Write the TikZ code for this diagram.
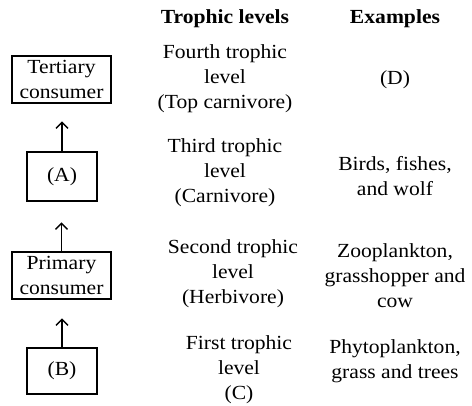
\documentclass[tikz,border=0pt]{standalone}
\usepackage{fontspec}
\setmainfont{Liberation Serif}[FakeStretch=1.08]
\usetikzlibrary{arrows.meta}
\begin{document}
\begin{tikzpicture}[x=1pt,y=-1pt,
  every node/.style={font=\fontsize{20}{25}\selectfont, align=center, inner sep=0pt},
  boxnode/.style={draw, line width=1.3pt},
  head/.style={font=\fontsize{20}{25}\selectfont\bfseries},
  uparrow/.style={line width=1.4pt, -{Straight Barb[length=6pt,width=12pt,line width=1.4pt]}}
]
\useasboundingbox (0,0) rectangle (472,405);
% headings
\node[head] (h1) at (225,19) {Trophic levels};
\node[head] (h2) at (395,19) {Examples};
% boxes
\node[boxnode, minimum width=99pt, minimum height=47pt] (tert) at (61.5,79.5) {Tertiary\\consumer};
\node[boxnode, minimum width=70pt, minimum height=49pt] (A) at (62,176.5) {(A)};
\node[boxnode, minimum width=99pt, minimum height=47pt] (prim) at (61.5,275.5) {Primary\\consumer};
\node[boxnode, minimum width=70pt, minimum height=46pt] (B) at (62,371) {(B)};
% arrows
\path (A.north) ++(0,-30) coordinate (tipA);
\path (prim.north) ++(0,-29) coordinate (tipP);
\path (B.north) ++(0,-29) coordinate (tipB);
\draw[uparrow] (A.north) -- (tipA);
\draw[uparrow] (prim.north) -- (tipP);
\draw[uparrow] (B.north) -- (tipB);
% trophic levels
\node (t4) at (225,79) {Fourth trophic\\level\\(Top carnivore)};
\node (t3) at (225,173) {Third trophic\\level\\(Carnivore)};
\node (t2) at (233,274) {Second trophic\\level\\(Herbivore)};
\node (t1) at (239,370) {First trophic\\level\\(C)};
% examples
\node (eD) at (395,80) {(D)};
\node (e3) at (395,176) {Birds, fishes,\\and wolf};
\node (e2) at (395,276) {Zooplankton,\\grasshopper and\\cow};
\node (e1) at (395,361) {Phytoplankton,\\grass and trees};
\end{tikzpicture}
\end{document}
